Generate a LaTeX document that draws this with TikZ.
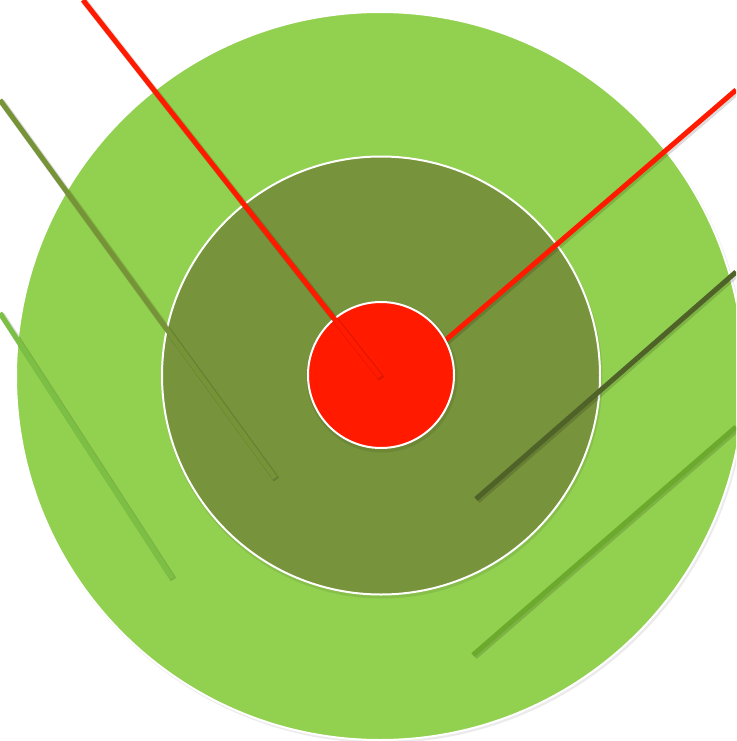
\documentclass[tikz,border=0pt]{standalone}
\usetikzlibrary{shapes.geometric,calc}
\definecolor{bigc}{HTML}{92D050}
\definecolor{midc}{HTML}{77933C}
\definecolor{redc}{HTML}{FF1A00}
\definecolor{olivel}{HTML}{779338}
\definecolor{lightl}{HTML}{7CBF45}
\definecolor{darkl}{HTML}{4F6228}
\definecolor{greenl}{HTML}{6BAA2C}
\tikzset{
  ring/.style={circle, draw=white, line width=2pt, inner sep=0pt},
  ringshadow/.style={circle, fill=black, opacity=0.08, inner sep=0pt},
  bar/.style={line width=5pt, line cap=butt},
  barshadow/.style={line width=6.5pt, black, opacity=0.14, line cap=butt},
}
\begin{document}
\begin{tikzpicture}[x=1pt,y=-1pt]
\useasboundingbox (0,0) rectangle (736,741);
\clip (0,0) rectangle (736,741);
% shadows
\node[ringshadow, minimum size=730pt] at (381.5,378) {};
% circles
\node[ring, fill=bigc, minimum size=728pt] (big) at (380,376) {};
\node[ringshadow, minimum size=441pt] at (382,378) {};
\node[ring, fill=midc, minimum size=438pt] (mid) at (381,375.5) {};
% coordinates for bars
\coordinate (a1) at (0,100);   \coordinate (a2) at (275,478);
\coordinate (b1) at (0,313);   \coordinate (b2) at (172,578);
\coordinate (c1) at (736,272); \coordinate (c2) at (476,499);
\coordinate (d1) at (736,427); \coordinate (d2) at (473,655);
\coordinate (e1) at (736,90);  \coordinate (e2) at (440,345);
\coordinate (f1) at (83,0);    \coordinate (f2) at (380,377);
% bars with soft shadows
\foreach \p/\q/\c in {a1/a2/olivel, b1/b2/lightl, c1/c2/darkl, d1/d2/greenl, e1/e2/redc}{
  \draw[barshadow] ($(\p)+(1.5,1.5)$) -- ($(\q)+(1.5,1.5)$);
  \draw[bar, \c] (\p) -- (\q);
}
% red centre
\node[ringshadow, minimum size=151pt] at (382,377) {};
\node[ring, fill=redc, minimum size=146pt] (core) at (381,375) {};
\draw[barshadow] ($(f1)+(1.5,1.5)$) -- ($(f2)+(1.5,1.5)$);
\draw[bar, redc] (f1) -- (f2);
\end{tikzpicture}
\end{document}
